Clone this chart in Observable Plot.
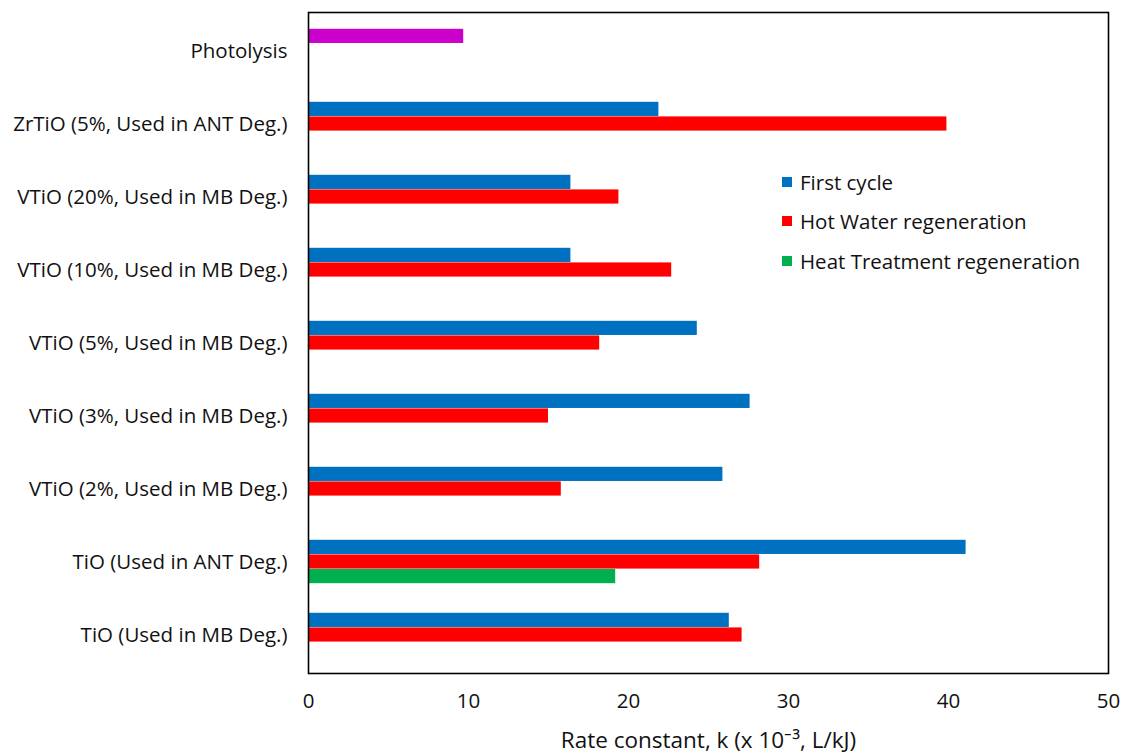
<!DOCTYPE html>
<html>
<head>
<meta charset="utf-8">
<script src="https://cdn.jsdelivr.net/npm/d3@7"></script>
<script src="https://cdn.jsdelivr.net/npm/@observablehq/plot@0.6"></script>
<style>
  html, body { margin: 0; padding: 0; background: #fff; }
  #wrap { position: relative; width: 1125px; height: 756px; font-family: "Open Sans", sans-serif; }
  #legend { position: absolute; left: 782px; top: 162px; font-size: 20.5px; color: #111; }
  #legend .item { display: flex; align-items: center; height: 39.5px; }
  #legend .sw { width: 10px; height: 10px; margin-right: 8px; }
  svg g[aria-label="x-axis label"] text { font-size: 22.5px; }
</style>
</head>
<body>
<div id="wrap"><div id="legend"></div></div>
<script>
// ---- data ----
const categories = [
  "Photolysis",
  "ZrTiO (5%, Used in ANT Deg.)",
  "VTiO (20%, Used in MB Deg.)",
  "VTiO (10%, Used in MB Deg.)",
  "VTiO (5%, Used in MB Deg.)",
  "VTiO (3%, Used in MB Deg.)",
  "VTiO (2%, Used in MB Deg.)",
  "TiO (Used in ANT Deg.)",
  "TiO (Used in MB Deg.)"
];
const seriesNames = ["First cycle", "Hot Water regeneration", "Heat Treatment regeneration"];
const seriesColors = ["#0070C0", "#FF0000", "#00B050"];
const photolysisColor = "#CC00CC";
// values per category (null = no bar)
const firstCycle    = [null, 21.9, 16.4, 16.4, 24.3, 27.6, 25.9, 41.1, 26.3];
const hotWater      = [null, 39.9, 19.4, 22.7, 18.2, 15.0, 15.8, 28.2, 27.1];
const heatTreatment = [null, null, null, null, null, null, null, 19.2, null];
const photolysis    = [9.7, null, null, null, null, null, null, null, null];
const xTicks = [0, 10, 20, 30, 40, 50];
const xLabel = "Rate constant, k (x 10\u207B\u00B3, L/kJ)";

// ---- layout ----
const W = 1125, H = 756;
const mL = 308, mR = 17, mT = 12, mB = 83;
const band = (H - mT - mB) / categories.length;
const slot = band * 0.199;
const inset = (band - slot) / 2;

const rows = (vals) => categories.map((c, i) => ({cat: c, v: vals[i]})).filter(d => d.v != null);

const font = "Open Sans, sans-serif";
const chart = Plot.plot({
  width: W, height: H,
  marginLeft: mL, marginRight: mR, marginTop: mT, marginBottom: mB,
  style: {fontFamily: font, fontSize: "20.5px", color: "#111", background: "white"},
  x: {domain: [0, 50], ticks: xTicks, tickSize: 0, tickPadding: 20, label: xLabel, labelAnchor: "center", labelOffset: 74, labelArrow: false},
  y: {domain: categories, padding: 0, tickSize: 0, tickPadding: 21, label: null},
  marks: [
    Plot.barX(rows(photolysis), {x: "v", y: "cat", fill: photolysisColor, dy: -slot, insetTop: inset, insetBottom: inset}),
    Plot.barX(rows(firstCycle), {x: "v", y: "cat", fill: seriesColors[0], dy: -slot, insetTop: inset, insetBottom: inset}),
    Plot.barX(rows(hotWater), {x: "v", y: "cat", fill: seriesColors[1], dy: 0, insetTop: inset, insetBottom: inset}),
    Plot.barX(rows(heatTreatment), {x: "v", y: "cat", fill: seriesColors[2], dy: slot, insetTop: inset, insetBottom: inset}),
    Plot.frame({stroke: "black", strokeWidth: 1.6})
  ]
});
const wrap = document.getElementById("wrap");
wrap.insertBefore(chart, wrap.firstChild);

// legend
const legend = document.getElementById("legend");
seriesNames.forEach((n, i) => {
  const it = document.createElement("div");
  it.className = "item";
  it.innerHTML = `<div class="sw" style="background:${seriesColors[i]}"></div><span>${n}</span>`;
  legend.appendChild(it);
});
</script>
</body>
</html>
